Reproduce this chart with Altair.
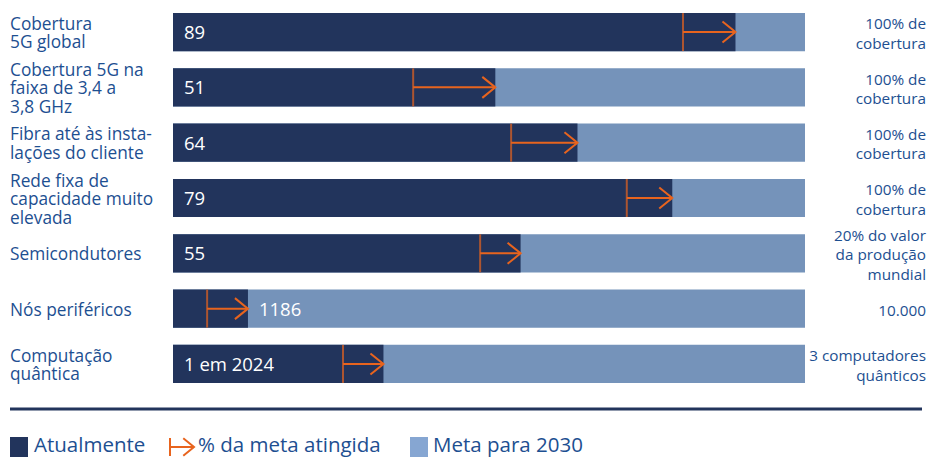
import altair as alt
import pandas as pd

# ---- data ----
categories = [
    "Cobertura\n5G global",
    "Cobertura 5G na\nfaixa de 3,4 a\n3,8 GHz",
    "Fibra até às insta-\nlações do cliente",
    "Rede fixa de\ncapacidade muito\nelevada",
    "Semicondutores",
    "Nós periféricos",
    "Computação\nquântica",
]
current_pct = [89, 51, 64, 79, 55, 11.86, 33.3]          # % of 2030 target reached today
value_labels = ["89", "51", "64", "79", "55", "1186", "1 em 2024"]
arrow_start = [80.7, 38.0, 53.5, 71.8, 48.6, 5.4, 26.9]  # start of the "% da meta" arrow
goal_labels = [
    "100% de\ncobertura",
    "100% de\ncobertura",
    "100% de\ncobertura",
    "100% de\ncobertura",
    "20% do valor\nda produção\nmundial",
    "10.000",
    "3 computadores\nquânticos",
]
goal_pct = [100] * 7
legend_labels = ["Atualmente", "% da meta atingida", "Meta para 2030"]

DARK = "#22345c"
LIGHT = "#7593ba"
LIGHT_LEG = "#86a6d2"
ORANGE = "#e8641e"
TXT = "#1d4f91"
FONT = "Open Sans"

df = pd.DataFrame({
    "row": list(range(len(categories))),
    "cat": categories,
    "current": current_pct,
    "goal": goal_pct,
    "start": arrow_start,
    "vlabel": value_labels,
    "glabel": goal_labels,
})
df["lab_pos"] = [c if c < 20 else 0 for c in current_pct]
df["n_cat"] = df["cat"].str.count("\n") + 1
df["n_goal"] = df["glabel"].str.count("\n") + 1

x = alt.X("goal:Q", scale=alt.Scale(domain=[0, 100], range=[165, 797]), axis=None)
y = alt.Y("row:O", scale=alt.Scale(paddingInner=0.31, paddingOuter=0.09), axis=None)

base = alt.Chart(df)

light = base.mark_bar(color=LIGHT).encode(x=x, y=y)
dark = base.mark_bar(color=DARK).encode(x=alt.X("current:Q"), y=y)
arrow_line = base.mark_rule(color=ORANGE, strokeWidth=2).encode(
    x=alt.X("start:Q"), x2="current:Q", y=y)
arrow_tick = base.mark_tick(color=ORANGE, thickness=2, size=38).encode(
    x=alt.X("start:Q"), y=y)
arrow_head = base.mark_point(shape="M-1.24,-1L0,0L-1.24,1", filled=False,
                             color=ORANGE, strokeWidth=2, size=441, opacity=1).encode(
    x=alt.X("current:Q"), y=y)
vtext = base.mark_text(color="white", fontSize=18.5, font=FONT, align="left",
                       baseline="middle", dx=11, dy=1).encode(
    x=alt.X("lab_pos:Q"), y=y, text="vlabel:N")

LH_L = 18.5
LH_R = 19.5
layers = [light, dark, arrow_line, arrow_tick, arrow_head, vtext]
for n in (1, 2, 3):
    layers.append(
        base.transform_filter(alt.datum.n_cat == n).mark_text(
            color=TXT, fontSize=17.3, font=FONT, align="left", baseline="middle",
            lineBreak="\n", lineHeight=LH_L, dy=2 - (n - 1) * LH_L / 2).encode(
            x=alt.value(2), y=y, text="cat:N"))
    layers.append(
        base.transform_filter(alt.datum.n_goal == n).mark_text(
            color=TXT, fontSize=15.3, font=FONT, align="right", baseline="middle",
            lineBreak="\n", lineHeight=LH_R, dy=2 - (n - 1) * LH_R / 2).encode(
            x=alt.value(918), y=y, text="glabel:N"))

top = alt.layer(*layers).properties(width=920, height=380)

one = pd.DataFrame({"a": [0]})
ob = alt.Chart(one)
sep = ob.mark_rule(color=DARK, strokeWidth=3).encode(
    x=alt.value(2), x2=alt.value(914), y=alt.value(21))
sq1 = ob.mark_rect(color=DARK).encode(
    x=alt.value(2), x2=alt.value(20), y=alt.value(49), y2=alt.value(69))
sq2 = ob.mark_rect(color=LIGHT_LEG).encode(
    x=alt.value(402), x2=alt.value(420), y=alt.value(49), y2=alt.value(69))
la_bar = ob.mark_rule(color=ORANGE, strokeWidth=2).encode(
    x=alt.value(162), y=alt.value(50), y2=alt.value(68))
la_line = ob.mark_rule(color=ORANGE, strokeWidth=2).encode(
    x=alt.value(162), x2=alt.value(186), y=alt.value(59))
la_head = ob.mark_point(shape="M-1.24,-1L0,0L-1.24,1", filled=False, color=ORANGE,
                        strokeWidth=2, size=300, opacity=1).encode(
    x=alt.value(186), y=alt.value(59))

def leg_text(label, xpos):
    return alt.Chart(pd.DataFrame({"t": [label]})).mark_text(
        color=TXT, fontSize=20.5, font=FONT, align="left", baseline="middle").encode(
        x=alt.value(xpos), y=alt.value(58), text="t:N")

bottom = alt.layer(
    sep, sq1, sq2, la_bar, la_line, la_head,
    leg_text(legend_labels[0], 26),
    leg_text(legend_labels[1], 190),
    leg_text(legend_labels[2], 425),
).properties(width=920, height=69)

chart = alt.vconcat(top, bottom, spacing=0).properties(padding=0).configure_view(stroke=None)

chart.save("out.html", embed_options={"renderer": "svg", "actions": False})
